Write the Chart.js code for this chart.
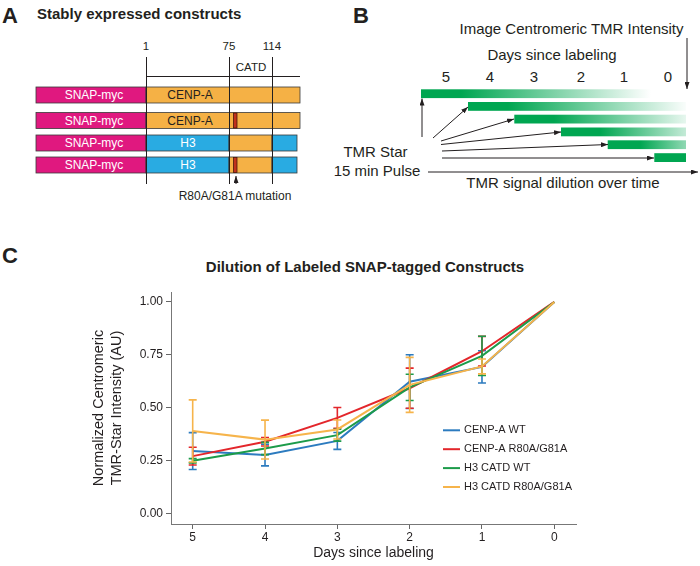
<!DOCTYPE html>
<html>
<head>
<meta charset="utf-8">
<script src="https://cdn.jsdelivr.net/npm/chart.js@4.4.0/dist/chart.umd.min.js"></script>
<style>
  body { margin: 0; background: #fff; }
  #fig { position: relative; width: 700px; height: 566px; overflow: hidden; font-family: "Liberation Sans", Arial, sans-serif; }
  #fig svg { position: absolute; left: 0; top: 0; }
  #chart { position: absolute; left: 0; top: 250px; }
</style>
</head>
<body>
<div id="fig">
<svg width="700" height="566" font-family="Liberation Sans, Arial, sans-serif" fill="#231f20">
  <defs>
    <marker id="ah" markerUnits="userSpaceOnUse" markerWidth="7" markerHeight="5" refX="7" refY="2.5" orient="auto">
      <path d="M0,0 L7,2.5 L0,5 z" fill="#231f20"/>
    </marker>
    <linearGradient id="g1" gradientUnits="userSpaceOnUse" x1="461" x2="651" y1="0" y2="0"><stop offset="0" stop-color="#00a651"/><stop offset="1" stop-color="#00a651" stop-opacity="0"/></linearGradient>
    <linearGradient id="g2" gradientUnits="userSpaceOnUse" x1="508" x2="690" y1="0" y2="0"><stop offset="0" stop-color="#00a651"/><stop offset="1" stop-color="#00a651" stop-opacity="0"/></linearGradient>
    <linearGradient id="g3" gradientUnits="userSpaceOnUse" x1="554" x2="700" y1="0" y2="0"><stop offset="0" stop-color="#00a651"/><stop offset="1" stop-color="#00a651" stop-opacity="0"/></linearGradient>
    <linearGradient id="g4" gradientUnits="userSpaceOnUse" x1="600" x2="712" y1="0" y2="0"><stop offset="0" stop-color="#00a651"/><stop offset="1" stop-color="#00a651" stop-opacity="0"/></linearGradient>
    <linearGradient id="g5" gradientUnits="userSpaceOnUse" x1="640" x2="722" y1="0" y2="0"><stop offset="0" stop-color="#00a651"/><stop offset="1" stop-color="#00a651" stop-opacity="0"/></linearGradient>
  </defs>

  <!-- panel A -->
  <text x="2" y="23" font-size="22" font-weight="bold">A</text>
  <text x="37" y="19" font-size="15" font-weight="bold">Stably expressed constructs</text>
  <g font-size="11.5" text-anchor="middle">
    <text x="146" y="50">1</text>
    <text x="229" y="50">75</text>
    <text x="272" y="50">114</text>
    <text x="251" y="71">CATD</text>
  </g>
  <g stroke="#3a3a3a" stroke-width="0.8">
    <rect x="36" y="87" width="110" height="16" fill="#e0187f"/>
    <rect x="146" y="87" width="154" height="16" fill="#f5b145"/>
    <rect x="36" y="112.5" width="110" height="16" fill="#e0187f"/>
    <rect x="146" y="112.5" width="154" height="16" fill="#f5b145"/>
    <rect x="36" y="135" width="110" height="16" fill="#e0187f"/>
    <rect x="146" y="135" width="83" height="16" fill="#29abe2"/>
    <rect x="229" y="135" width="43" height="16" fill="#f5b145"/>
    <rect x="272" y="135" width="25" height="16" fill="#29abe2"/>
    <rect x="36" y="157" width="110" height="16" fill="#e0187f"/>
    <rect x="146" y="157" width="83" height="16" fill="#29abe2"/>
    <rect x="229" y="157" width="43" height="16" fill="#f5b145"/>
    <rect x="272" y="157" width="25" height="16" fill="#29abe2"/>
  </g>
  <g fill="#c0311d" stroke="#4a1808" stroke-width="0.8">
    <rect x="233.5" y="113" width="3.5" height="15"/>
    <rect x="233.5" y="157.5" width="3.5" height="15"/>
  </g>
  <g stroke="#231f20" stroke-width="1">
    <line x1="146.5" y1="57" x2="146.5" y2="184"/>
    <line x1="229.5" y1="57" x2="229.5" y2="184"/>
    <line x1="272.5" y1="57" x2="272.5" y2="184"/>
    <line x1="146" y1="76.5" x2="300" y2="76.5"/>
    <line x1="236" y1="184" x2="236" y2="176" marker-end="url(#ah)"/>
  </g>
  <g font-size="12" text-anchor="middle" dominant-baseline="central">
    <text x="94" y="95" fill="#fff">SNAP-myc</text>
    <text x="94" y="120.5" fill="#fff">SNAP-myc</text>
    <text x="94" y="143" fill="#fff">SNAP-myc</text>
    <text x="94" y="165" fill="#fff">SNAP-myc</text>
    <text x="190" y="95">CENP-A</text>
    <text x="190" y="120.5">CENP-A</text>
    <text x="188" y="143" fill="#fff">H3</text>
    <text x="188" y="165" fill="#fff">H3</text>
  </g>
  <text x="235" y="199.5" font-size="12" text-anchor="middle">R80A/G81A mutation</text>

  <!-- panel B -->
  <text x="353" y="23" font-size="22" font-weight="bold">B</text>
  <g font-size="15" text-anchor="middle">
    <text x="571.5" y="34">Image Centromeric TMR Intensity</text>
    <text x="552" y="59.5">Days since labeling</text>
    <text x="446" y="82">5</text>
    <text x="490" y="82">4</text>
    <text x="534" y="82">3</text>
    <text x="581" y="82">2</text>
    <text x="624" y="82">1</text>
    <text x="668" y="82">0</text>
    <text x="375.5" y="157">TMR Star</text>
    <text x="377" y="175.5">15 min Pulse</text>
    <text x="563" y="188">TMR signal dilution over time</text>
  </g>
  <rect x="421" y="89.3" width="265" height="8.8" fill="url(#g1)"/>
  <rect x="468" y="102" width="218" height="8.8" fill="url(#g2)"/>
  <rect x="514.3" y="114.7" width="171.7" height="8.8" fill="url(#g3)"/>
  <rect x="561" y="127.5" width="125" height="8.8" fill="url(#g4)"/>
  <rect x="607.7" y="140.3" width="78.3" height="8.8" fill="url(#g5)"/>
  <rect x="654.3" y="153.2" width="31.7" height="8.8" fill="#00a651"/>
  <g stroke="#231f20" stroke-width="1" fill="none">
    <line x1="687" y1="38" x2="687" y2="89" marker-end="url(#ah)"/>
    <line x1="422" y1="137" x2="422" y2="98.5" marker-end="url(#ah)"/>
    <line x1="433" y1="138" x2="468" y2="107" marker-end="url(#ah)"/>
    <line x1="441" y1="141" x2="514" y2="119" marker-end="url(#ah)"/>
    <line x1="441" y1="144.5" x2="561" y2="132" marker-end="url(#ah)"/>
    <line x1="442" y1="151" x2="608" y2="144.5" marker-end="url(#ah)"/>
    <line x1="442" y1="158" x2="654" y2="158" marker-end="url(#ah)"/>
    <line x1="428" y1="172" x2="698" y2="172" marker-end="url(#ah)"/>
  </g>

  <!-- panel C -->
  <text x="2" y="262.5" font-size="22" font-weight="bold">C</text>
  <text x="365" y="271.5" font-size="15" font-weight="bold" text-anchor="middle">Dilution of Labeled SNAP-tagged Constructs</text>
</svg>
<canvas id="chart" width="700" height="316"></canvas>
</div>
<script>
// days since labeling (x axis, reversed)
const days = [5, 4, 3, 2, 1, 0];
const seriesNames = ["CENP-A WT", "CENP-A R80A/G81A", "H3 CATD WT", "H3 CATD R80A/G81A"];
const seriesColors = ["#2c7bbf", "#e3262b", "#1c9b4a", "#f6b44b"];

// normalized centromeric TMR-Star intensity, mean and error bar size
const cenpaWt = [0.295, 0.276, 0.343, 0.623, 0.693, 1.0];
const cenpaWtErr = [0.087, 0.051, 0.04, 0.127, 0.076, 0];
const cenpaMut = [0.271, 0.339, 0.452, 0.592, 0.767, 1.0];
const cenpaMutErr = [0.042, 0.02, 0.049, 0.095, 0.07, 0];
const h3Wt = [0.249, 0.307, 0.37, 0.596, 0.745, 1.0];
const h3WtErr = [0.01, 0.029, 0.028, 0.062, 0.093, 0];
const h3Mut = [0.39, 0.349, 0.397, 0.608, 0.695, 1.0];
const h3MutErr = [0.147, 0.092, 0.045, 0.13, 0.035, 0];

const xTicks = [5, 4, 3, 2, 1, 0];
const yTicks = [0, 0.25, 0.5, 0.75, 1];

const means = [cenpaWt, cenpaMut, h3Wt, h3Mut];
const errs = [cenpaWtErr, cenpaMutErr, h3WtErr, h3MutErr];

const FONT = '"Liberation Sans", Arial, sans-serif';
Chart.defaults.font.family = FONT;
Chart.defaults.color = "#231f20";

// error bars drawn right after each line
const errorBars = {
  id: "errorBars",
  afterDatasetDraw(chart, args) {
    const ds = chart.data.datasets[args.index];
    const xs = chart.scales.x, ys = chart.scales.y;
    const ctx = chart.ctx;
    ctx.save();
    ctx.strokeStyle = ds.borderColor;
    ctx.lineWidth = 1.6;
    ds.data.forEach((p, i) => {
      const e = ds.err[i];
      if (!e) return;
      const px = xs.getPixelForValue(p.x);
      const top = ys.getPixelForValue(p.y + e);
      const bot = ys.getPixelForValue(p.y - e);
      ctx.beginPath();
      ctx.moveTo(px, top); ctx.lineTo(px, bot);
      ctx.moveTo(px - 4, top); ctx.lineTo(px + 4, top);
      ctx.moveTo(px - 4, bot); ctx.lineTo(px + 4, bot);
      ctx.stroke();
    });
    ctx.restore();
  }
};

// legend inside the plot area
const insideLegend = {
  id: "insideLegend",
  afterDraw(chart, args, opts) {
    const ctx = chart.ctx;
    const a = chart.chartArea;
    ctx.save();
    ctx.font = "11px " + FONT;
    ctx.textBaseline = "middle";
    chart.data.datasets.forEach((ds, i) => {
      const y = a.top + opts.y + i * opts.rowH;
      const x = a.left + opts.x;
      ctx.strokeStyle = ds.borderColor;
      ctx.lineWidth = 2;
      ctx.beginPath();
      ctx.moveTo(x, y); ctx.lineTo(x + 17, y);
      ctx.stroke();
      ctx.fillStyle = "#231f20";
      ctx.fillText(ds.label, x + 21, y);
    });
    ctx.restore();
  }
};

const datasets = seriesNames.map((name, i) => ({
  label: name,
  data: days.map((d, j) => ({ x: d, y: means[i][j] })),
  err: errs[i],
  borderColor: seriesColors[i],
  backgroundColor: seriesColors[i],
  borderWidth: 2,
  pointRadius: 0,
  tension: 0,
  order: seriesNames.length - 1 - i
}));

new Chart(document.getElementById("chart"), {
  type: "line",
  data: { datasets: datasets },
  options: {
    responsive: false,
    animation: false,
    devicePixelRatio: 1,
    layout: { padding: { left: 90, right: 124, top: 42, bottom: 0 } },
    plugins: {
      legend: { display: false },
      title: { display: false },
      tooltip: { enabled: false },
      insideLegend: { x: 272, y: 138.3, rowH: 18.9 }
    },
    scales: {
      x: {
        type: "linear",
        reverse: true,
        min: -0.3,
        max: 5.3,
        afterBuildTicks: (s) => { s.ticks = xTicks.map(v => ({ value: v })); },
        afterFit: (s) => { s.height = 42; },
        ticks: { font: { size: 12 }, padding: 1, color: "#231f20", callback: (v) => String(v) },
        grid: { drawOnChartArea: false, drawTicks: true, tickLength: 5, color: "#666" },
        border: { display: true, color: "#777", width: 1 },
        title: { display: true, text: "Days since labeling", font: { size: 14, lineHeight: 1.25 }, padding: { top: 0, bottom: 4 } }
      },
      y: {
        min: -0.05,
        max: 1.047,
        afterBuildTicks: (s) => { s.ticks = yTicks.map(v => ({ value: v })); },
        afterFit: (s) => { s.width = 81; },
        ticks: { font: { size: 12 }, padding: 3, color: "#231f20", callback: (v) => v.toFixed(2) },
        grid: { drawOnChartArea: false, drawTicks: true, tickLength: 5, color: "#666" },
        border: { display: true, color: "#777", width: 1 },
        title: { display: true, text: ["Normalized Centromeric", "TMR-Star Intensity (AU)"], font: { size: 14.5, lineHeight: 1.25 }, padding: 0 }
      }
    }
  },
  plugins: [errorBars, insideLegend]
});
</script>
</body>
</html>
